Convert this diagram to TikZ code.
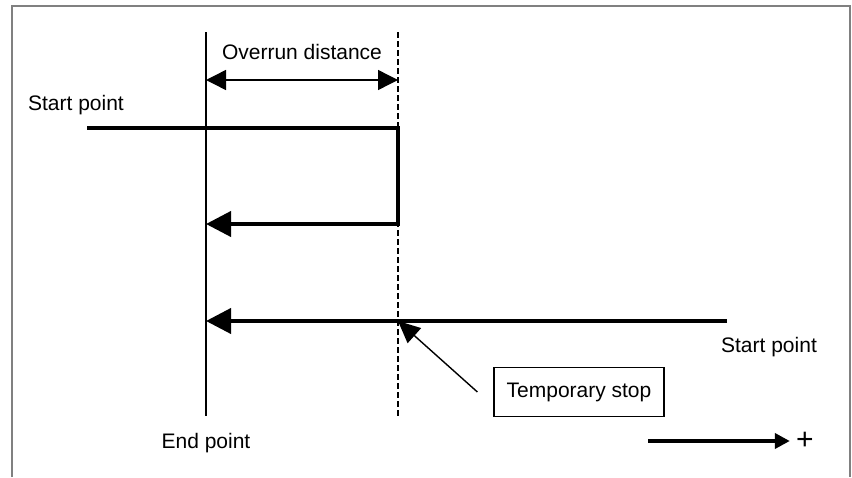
\documentclass[tikz,border=0pt]{standalone}
\usepackage{fontspec}
\setmainfont{Liberation Sans}
\usetikzlibrary{arrows.meta,positioning}

\begin{document}
\begin{tikzpicture}[
  x=0.5pt,y=-0.5pt,
  font=\fontsize{10.5}{12}\selectfont,
  frame/.style={draw=gray,line width=1pt},
  guide/.style={line width=1pt},
  guidedash/.style={line width=0.75pt,dash pattern=on 3pt off 1.5pt},
  motion/.style={line width=2pt,-{Triangle[length=12.5pt,width=12.5pt]}},
  dirn/.style={line width=2pt,-{Triangle[length=7.5pt,width=7.5pt]}},
  dim/.style={line width=0.7pt,{Triangle[length=10pt,width=10pt]}-{Triangle[length=10pt,width=10pt]}},
  txt/.style={inner sep=0pt},
  callout/.style={draw,line width=0.6pt,minimum width=85pt,minimum height=24.5pt},
  pointer/.style={line width=0.7pt,-{Triangle[length=11pt,width=10pt]}}
]
\useasboundingbox (0,0) rectangle (852,477);
\draw[frame] (12,477) |- (850,6) -- (850,477);

% end point line and temporary stop line
\coordinate (endTop) at (206,32);
\coordinate (endBot) at (206,416);
\coordinate (stopTop) at (398,32);
\coordinate (stopBot) at (398,416);
\draw[guide] (endTop) -- (endBot);
\draw[guidedash] (stopTop) -- (stopBot);

% overrun distance
\coordinate (ovL) at (206,80);
\coordinate (ovR) at (398,80);
\node[txt] (overrun) at (302,52) {Overrun distance};
\draw[dim] (ovL) -- (ovR);

% upper path
\node[txt] (startL) at (76,105) {Start point};
\coordinate (s1) at (87,128);
\coordinate (t1) at (398,128);
\coordinate (t2) at (398,224);
\coordinate (e1) at (206,224);
\draw[motion] (s1) -- (t1) -- (t2) -- (e1);

% lower path
\node[txt] (startR) at (769,347) {Start point};
\coordinate (s2) at (727,321);
\coordinate (e2) at (206,321);
\coordinate (hit) at (stopTop |- s2);
\draw[motion] (s2) -- (e2);

\node[callout] (tmpstop) at (579,392) {Temporary stop};
\draw[pointer] ([xshift=-8pt]tmpstop.west) -- (hit);

\node[txt] (endpt) at (206,443) {End point};

% direction
\node[txt,font=\fontsize{15}{15}\selectfont] (plus) at (805,441) {+};
\coordinate (p0) at (648,441);
\draw[dirn] (p0) -- ([xshift=-3pt]plus.west);
\end{tikzpicture}
\end{document}
